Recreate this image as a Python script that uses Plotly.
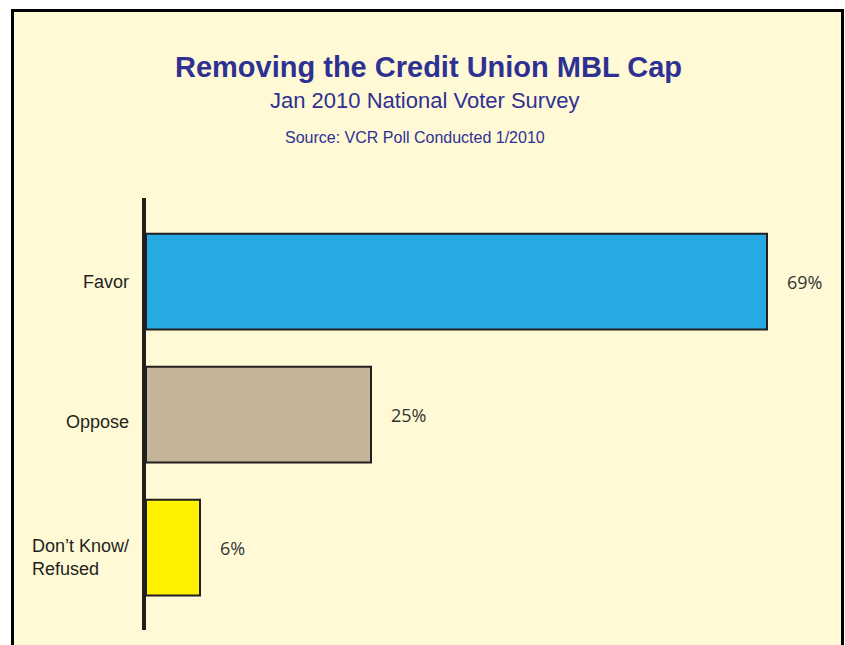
import plotly.graph_objects as go

# ---- data ----
categories = ["Favor", "Oppose", "Don\u2019t Know/<br>Refused"]
values = [69, 25, 6]
value_labels = ["69%", "25%", "6%"]
bar_colors = ["#27AAE1", "#C4B49A", "#FFF200"]

title_text = "Removing the Credit Union MBL Cap"
subtitle_text = "Jan 2010 National Voter Survey"
source_text = "Source: VCR Poll Conducted 1/2010"

W, H = 845, 645
ML, MR, MT, MB = 146, 14, 198, 15
PW = W - ML - MR
PH = H - MT - MB

def px_x(p):
    return (p - ML) / PW

def px_y(p):
    return (H - MB - p) / PH

ypos = list(range(len(categories)))

fig = go.Figure()
fig.add_trace(go.Bar(
    x=values, y=ypos, orientation="h", width=0.72,
    marker=dict(color=bar_colors, line=dict(color="#231F20", width=2)),
    hoverinfo="skip",
))

annotations = []
# value labels
for v, yi, lab in zip(values, ypos, value_labels):
    annotations.append(dict(
        x=v, y=yi, xref="x", yref="y", text=lab, showarrow=False,
        xanchor="left", yanchor="middle", xshift=18,
        font=dict(family="Open Sans", size=18, color="#333333"),
    ))
# category labels
label_shift = [0, -7, -10]
for yi, cat, sh in zip(ypos, categories, label_shift):
    annotations.append(dict(
        x=px_x(131), y=yi, xref="paper", yref="y", text=cat, showarrow=False,
        xanchor="right", yanchor="middle", align="left", yshift=sh,
        font=dict(family="Liberation Sans", size=18, color="#231F20"),
    ))
# titles
annotations.append(dict(
    x=px_x(428.5), y=px_y(67), xref="paper", yref="paper", text="<b>" + title_text + "</b>",
    showarrow=False, xanchor="center", yanchor="middle",
    font=dict(family="Liberation Sans", size=29, color="#2E3192"),
))
annotations.append(dict(
    x=px_x(424), y=px_y(100.5), xref="paper", yref="paper", text=subtitle_text,
    showarrow=False, xanchor="center", yanchor="middle",
    font=dict(family="Liberation Sans", size=22, color="#2E3192"),
))
annotations.append(dict(
    x=px_x(414.5), y=px_y(137.5), xref="paper", yref="paper", text=source_text,
    showarrow=False, xanchor="center", yanchor="middle",
    font=dict(family="Liberation Sans", size=16, color="#2E3192"),
))

fig.update_layout(
    width=W, height=H,
    margin=dict(l=ML, r=MR, t=MT, b=MB, pad=0),
    paper_bgcolor="white",
    plot_bgcolor="rgba(0,0,0,0)",
    showlegend=False,
    xaxis=dict(range=[0, PW / 9.0], visible=False, fixedrange=True),
    yaxis=dict(range=[2.62, -0.628], showline=True, linecolor="#231F20", linewidth=4,
               showticklabels=False, ticks="", showgrid=False, zeroline=False, fixedrange=True),
    shapes=[dict(
        type="rect", xref="paper", yref="paper", layer="below",
        x0=px_x(12.5), x1=px_x(842.5), y0=px_y(665), y1=px_y(10.5),
        fillcolor="#FFF9D6", line=dict(color="#000000", width=3),
    )],
    annotations=annotations,
)

fig.write_html("out.html")
